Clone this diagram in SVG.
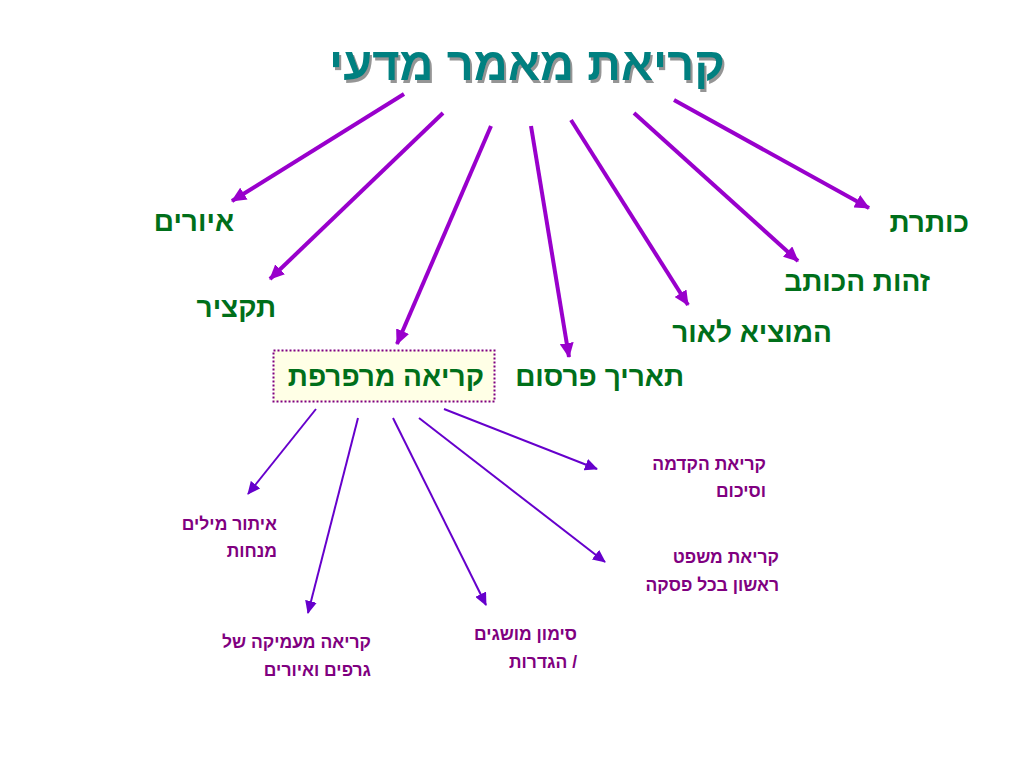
<svg xmlns="http://www.w3.org/2000/svg" width="1024" height="768" viewBox="0 0 1024 768">
<defs>
<style>
.t{font-family:"Liberation Sans","DejaVu Sans",sans-serif;font-weight:bold;direction:rtl;text-anchor:start}
.title{font-size:47px;fill:#008080;filter:url(#sh)}
.g{font-size:28px;fill:#006f1a}
.p{font-size:17.5px;fill:#800080}
.up{stroke:#9900cc;stroke-width:4;fill:none;marker-end:url(#ah1)}
.lo{stroke:#6600cc;stroke-width:2;fill:none;marker-end:url(#ah2)}
</style>
<filter id="sh" x="-5%" y="-20%" width="110%" height="140%">
<feDropShadow dx="2" dy="3" stdDeviation="0.6" flood-color="#7a7a7a" flood-opacity="0.8"/>
</filter>
<marker id="ah1" markerUnits="userSpaceOnUse" markerWidth="16" markerHeight="14" refX="14" refY="7" orient="auto">
<path d="M0,0 L15,7 L0,14 Z" fill="#9900cc"/>
</marker>
<marker id="ah2" markerUnits="userSpaceOnUse" markerWidth="14" markerHeight="12" refX="12" refY="6" orient="auto">
<path d="M0,0 L13,6 L0,12 Z" fill="#6600cc"/>
</marker>
</defs>
<rect width="1024" height="768" fill="#ffffff"/>
<g id="title">
<text class="t title" x="725" y="80">קריאת מאמר מדעי</text>
</g>
<g id="connectors">
<line class="up" x1="404" y1="94" x2="232" y2="201"/>
<line class="up" x1="443" y1="113" x2="270" y2="279"/>
<line class="up" x1="491" y1="126" x2="397" y2="344"/>
<line class="up" x1="531" y1="126" x2="569" y2="357"/>
<line class="up" x1="571" y1="120" x2="688" y2="305"/>
<line class="up" x1="634" y1="113" x2="798" y2="261"/>
<line class="up" x1="674" y1="100" x2="869" y2="208"/>
<line class="lo" x1="316" y1="409" x2="248" y2="494"/>
<line class="lo" x1="358" y1="418" x2="308" y2="613"/>
<line class="lo" x1="393" y1="418" x2="486" y2="605"/>
<line class="lo" x1="419" y1="418" x2="605" y2="562"/>
<line class="lo" x1="444" y1="409" x2="597" y2="469"/>
</g>
<g id="n-illustrations"><text class="t g" x="234" y="231">איורים</text></g>
<g id="n-abstract"><text class="t g" x="276" y="317">תקציר</text></g>
<g id="n-title"><text class="t g" x="969" y="232">כותרת</text></g>
<g id="n-author"><text class="t g" x="930" y="291">זהות הכותב</text></g>
<g id="n-publisher"><text class="t g" x="832" y="342">המוציא לאור</text></g>
<g id="n-date"><text class="t g" x="684" y="386">תאריך פרסום</text></g>
<g id="n-skim">
<rect x="273.5" y="350.5" width="221" height="51" fill="#ffffe6" stroke="#800080" stroke-width="2" stroke-dasharray="2,2"/>
<text class="t g" x="484" y="386">קריאה מרפרפת</text>
</g>
<g id="n-keywords">
<text class="t p" x="277" y="530">איתור מילים</text>
<text class="t p" x="277" y="557">מנחות</text>
</g>
<g id="n-graphs">
<text class="t p" x="371" y="648">קריאה מעמיקה של</text>
<text class="t p" x="371" y="676">גרפים ואיורים</text>
</g>
<g id="n-terms">
<text class="t p" x="577" y="640">סימון מושגים</text>
<text class="t p" x="577" y="668">/ הגדרות</text>
</g>
<g id="n-intro">
<text class="t p" x="766" y="470">קריאת הקדמה</text>
<text class="t p" x="766" y="497">וסיכום</text>
</g>
<g id="n-first">
<text class="t p" x="779" y="563">קריאת משפט</text>
<text class="t p" x="779" y="591">ראשון בכל פסקה</text>
</g>
</svg>
